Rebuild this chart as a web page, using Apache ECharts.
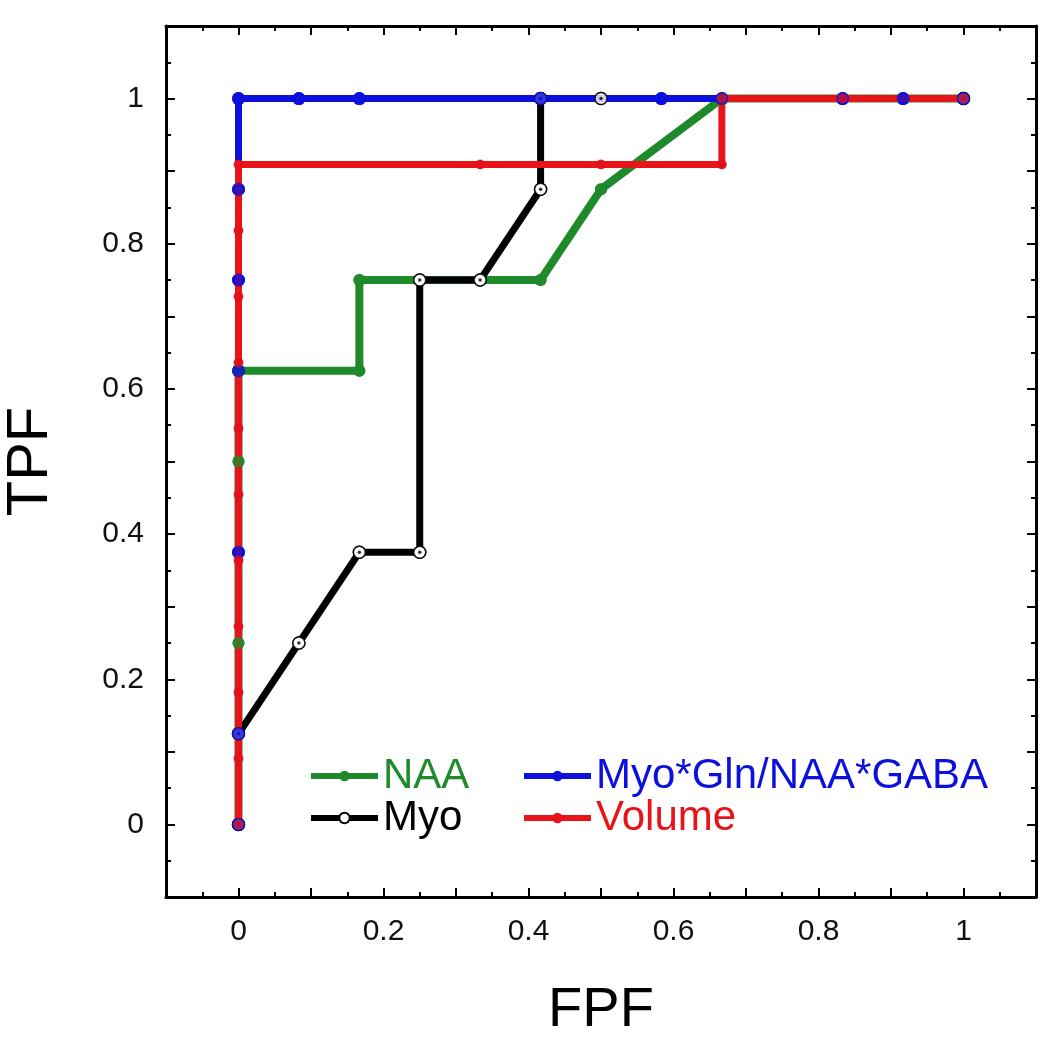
<!DOCTYPE html>
<html>
<head>
<meta charset="utf-8">
<script src="https://cdn.jsdelivr.net/npm/echarts@6/dist/echarts.min.js"></script>
<style>
html,body{margin:0;padding:0;background:#fff;}
#chart{width:1046px;height:1050px;}
</style>
</head>
<body>
<div id="chart"></div>
<script>
// ---- data (FPF, TPF) ----
const naaX = [0, 0, 0, 0, 0.1667, 0.1667, 0.4167, 0.5, 0.6667, 1];
const naaY = [0, 0.25, 0.5, 0.625, 0.625, 0.75, 0.75, 0.875, 1, 1];

const myoX = [0, 0, 0.0833, 0.1667, 0.25, 0.25, 0.3333, 0.4167, 0.4167, 0.5, 1];
const myoY = [0, 0.125, 0.25, 0.375, 0.375, 0.75, 0.75, 0.875, 1, 1, 1];

const comboX = [0, 0, 0, 0, 0, 0, 0, 0.0833, 0.1667, 0.4167, 0.5833, 0.6667, 0.8333, 0.9167, 1];
const comboY = [0, 0.125, 0.375, 0.625, 0.75, 0.875, 1, 1, 1, 1, 1, 1, 1, 1, 1];

const volX = [0, 0, 0, 0, 0, 0, 0, 0, 0, 0, 0, 0.3333, 0.5, 0.6667, 0.6667, 0.8333, 1];
const volY = [0, 0.0909, 0.1818, 0.2727, 0.3636, 0.4545, 0.5455, 0.6364, 0.7273, 0.8182, 0.9091, 0.9091, 0.9091, 0.9091, 1, 1, 1];

const seriesNames = ['NAA', 'Myo', 'Myo*Gln/NAA*GABA', 'Volume'];
const tickLabels = ['0', '0.2', '0.4', '0.6', '0.8', '1'];

const pairs = (xs, ys) => xs.map((x, i) => [x, ys[i]]);

const C_GREEN = '#1e8a2a';
const C_BLACK = '#000000';
const C_BLUE = '#0c10dc';
const C_RED = '#e8141a';
const FONT = '"Liberation Sans", Arial, Helvetica, sans-serif';

function tickFmt(v) {
  const s = String(Math.round(v * 10) / 10);
  return tickLabels.indexOf(s) >= 0 ? s : '';
}

const axisCommon = {
  type: 'value', min: -0.1, max: 1.1, interval: 0.1,
  axisLine: { show: true, onZero: false, lineStyle: { color: '#000', width: 3 } },
  axisTick: { show: true, inside: true, length: 9, lineStyle: { color: '#000', width: 2 } },
  minorTick: { show: true, splitNumber: 2, length: 5, lineStyle: { color: '#000', width: 2 } },
  splitLine: { show: false },
  minorSplitLine: { show: false }
};

const chart = echarts.init(document.getElementById('chart'), null, { renderer: 'canvas' });

const legendCommon = {
  orient: 'vertical', top: 750, itemWidth: 67, itemHeight: 13, itemGap: 0,
  textStyle: { fontSize: 42, lineHeight: 41, fontFamily: FONT },
  lineStyle: { width: 6 }
};

const option = {
  backgroundColor: '#fff',
  animation: false,
  textStyle: { fontFamily: FONT },
  grid: { left: 166, right: 10, top: 26, bottom: 153, containLabel: false, outerBoundsMode: 'none' },
  xAxis: [
    Object.assign({}, axisCommon, {
      position: 'bottom',
      axisLabel: { formatter: tickFmt, fontSize: 30, color: '#111', margin: 20, fontFamily: FONT },
      name: 'FPF', nameLocation: 'middle', nameGap: 86,
      nameTextStyle: { fontSize: 56, color: '#000', fontFamily: FONT }
    }),
    Object.assign({}, axisCommon, { position: 'top', axisLabel: { show: false } })
  ],
  yAxis: [
    Object.assign({}, axisCommon, {
      position: 'left',
      axisLabel: { formatter: tickFmt, fontSize: 30, color: '#111', margin: 22, fontFamily: FONT },
      name: 'TPF', nameLocation: 'middle', nameGap: 106,
      nameTextStyle: { fontSize: 58, color: '#000', fontFamily: FONT }
    }),
    Object.assign({}, axisCommon, { position: 'right', axisLabel: { show: false } })
  ],
  legend: [
    Object.assign({}, legendCommon, {
      left: 303,
      data: [
        { name: 'NAA', textStyle: { color: C_GREEN } },
        { name: 'Myo', textStyle: { color: C_BLACK } }
      ]
    }),
    Object.assign({}, legendCommon, {
      left: 516,
      data: [
        { name: 'Myo*Gln/NAA*GABA', textStyle: { color: C_BLUE } },
        { name: 'Volume', textStyle: { color: C_RED } }
      ]
    })
  ],
  series: [
    {
      name: seriesNames[0], type: 'line', z: 2, data: pairs(naaX, naaY),
      symbol: 'circle', symbolSize: 12, showSymbol: true,
      lineStyle: { color: C_GREEN, width: 8 }, itemStyle: { color: C_GREEN }
    },
    {
      name: seriesNames[1], type: 'line', z: 3, data: pairs(myoX, myoY),
      symbol: 'circle', symbolSize: 12, showSymbol: true,
      lineStyle: { color: C_BLACK, width: 7 },
      itemStyle: { color: '#fff', borderColor: '#000', borderWidth: 1.5 }
    },
    {
      name: seriesNames[2], type: 'line', z: 4, data: pairs(comboX, comboY),
      symbol: 'circle', symbolSize: 13, showSymbol: true,
      lineStyle: { color: C_BLUE, width: 7 }, itemStyle: { color: C_BLUE }
    },
    {
      name: seriesNames[3], type: 'line', z: 5, data: pairs(volX, volY),
      symbol: 'circle', symbolSize: 9, showSymbol: true,
      lineStyle: { color: C_RED, width: 7 }, itemStyle: { color: C_RED }
    },
    // marker overlays (layering like the reference)
    {
      type: 'scatter', z: 6, data: pairs(naaX, naaY), symbol: 'circle', symbolSize: 12,
      itemStyle: { color: C_GREEN }, silent: true
    },
    {
      type: 'scatter', z: 6, data: pairs(myoX, myoY), symbol: 'circle', symbolSize: 12,
      itemStyle: { color: '#fff', borderColor: '#000', borderWidth: 1.5 }, silent: true
    },
    {
      type: 'scatter', z: 7, data: pairs(myoX, myoY), symbol: 'circle', symbolSize: 3.5,
      itemStyle: { color: '#000' }, silent: true
    },
    {
      type: 'scatter', z: 8, data: pairs(comboX, comboY), symbol: 'circle', symbolSize: 13,
      itemStyle: { color: C_BLUE }, silent: true
    },
    {
      type: 'scatter', z: 9, data: pairs(volX, volY), symbol: 'circle', symbolSize: 10,
      itemStyle: { color: '#e0101a', opacity: 0.72 }, silent: true
    }
  ]
};

chart.setOption(option);
</script>
</body>
</html>
